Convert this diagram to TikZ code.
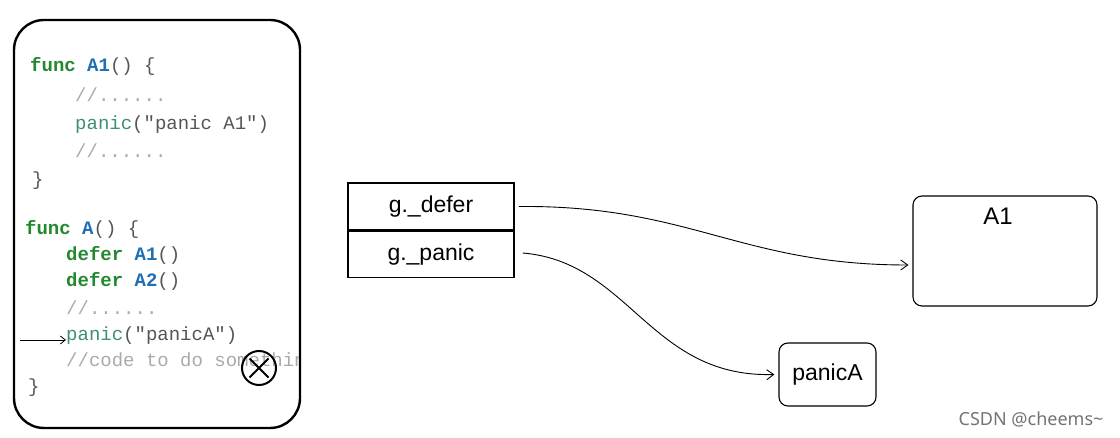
\documentclass[tikz,border=0pt]{standalone}
\usepackage{fontspec}
\setmainfont{Liberation Sans}
\newfontfamily\codefont{Liberation Mono}
\newfontfamily\wmfont{Noto Sans}
\usetikzlibrary{arrows.meta}
\definecolor{kwgreen}{HTML}{22892E}
\definecolor{fnblue}{HTML}{1E6FB4}
\definecolor{pncolor}{HTML}{3E8F73}
\definecolor{cmgray}{HTML}{AAAAAA}
\definecolor{plgray}{HTML}{555555}
\newcommand{\kwd}[1]{\textcolor{kwgreen}{\bfseries #1}}
\newcommand{\fnm}[1]{\textcolor{fnblue}{\bfseries #1}}
\newcommand{\pnc}[1]{\textcolor{pncolor}{#1}}
\newcommand{\cmt}[1]{\textcolor{cmgray}{#1}}
\begin{document}
\begin{tikzpicture}[x=1pt,y=-1pt,
  code/.style={anchor=base west,inner sep=0pt,font=\codefont\fontsize{19}{19}\selectfont,text=plgray},
  field/.style={draw,line width=1.5pt,minimum width=166pt,minimum height=46.5pt,inner sep=0pt,font=\fontsize{23}{23}\selectfont},
  memo/.style={draw,line width=1.1pt,rounded corners=9pt,inner sep=0pt},
  link/.style={line width=0.9pt,-{Straight Barb[length=7pt,width=10pt]}}]
\useasboundingbox (0,0) rectangle (1120,438);
% big code box
\begin{scope}
\clip[rounded corners=30pt] (14,20) rectangle (298,428);
\node[code] (l1) at (30,72) {\kwd{func} \fnm{A1}() \{};
\node[code] (l2) at (75,102) {\cmt{//......}};
\node[code] (l3) at (75,130) {\pnc{panic}("panic A1")};
\node[code] (l4) at (75,158) {\cmt{//......}};
\node[code] (l5) at (32,186) {\}};
\node[code] (m1) at (25,235) {\kwd{func} \fnm{A}() \{};
\node[code] (m2) at (66,261) {\kwd{defer} \fnm{A1}()};
\node[code] (m3) at (66,287) {\kwd{defer} \fnm{A2}()};
\node[code] (m4) at (66,315) {\cmt{//......}};
\node[code] (m5) at (66,341) {\pnc{panic}("panicA")};
\node[code] (m6) at (66,367) {\cmt{//code to do something}};
\node[code] (m7) at (28,393) {\}};
\end{scope}
\draw[line width=2.4pt,rounded corners=30pt] (14,20) rectangle (300,428);
\coordinate (pstart) at (20,340);
\draw[line width=0.8pt,-{Straight Barb[length=5pt,width=8pt]}] (pstart) -- (m5.west |- 0,340);
% cross circle
\node[draw,circle,line width=2pt,minimum size=34pt,inner sep=0pt] (xc) at (259,368) {};
\draw[line width=2pt] ([shift={(-9.5,-9.5)}]xc.center) -- ([shift={(9.5,9.5)}]xc.center)
  ([shift={(-9.5,9.5)}]xc.center) -- ([shift={(9.5,-9.5)}]xc.center);
% g fields
\node[field] (gdefer) at (431,206.5) {g.\_defer};
\node[field,anchor=north] (gpanic) at (gdefer.south) {g.\_panic};
% targets
\node[memo,minimum width=184pt,minimum height=110pt] (A1box) at (1005,251) {};
\node[font=\fontsize{24}{24}\selectfont] (A1lbl) at (998,216) {A1};
\node[memo,minimum width=97pt,minimum height=63pt,font=\fontsize{23}{23}\selectfont] (pA) at (827.5,374.5) {panicA};
% connectors
\draw[link] ([xshift=4pt]gdefer.east) .. controls (690,205) and (740,265) .. ([shift={(-4,14)}]A1box.west);
\draw[link] ([shift={(8,-1.5)}]gpanic.east) .. controls (630,262) and (650,378) .. ([xshift=-4pt]pA.west);
% watermark
\node[font=\wmfont\fontsize{18}{18}\selectfont,text=black!55,anchor=east] (wm) at (1107,419) {CSDN @cheems\textasciitilde};
\end{tikzpicture}
\end{document}
